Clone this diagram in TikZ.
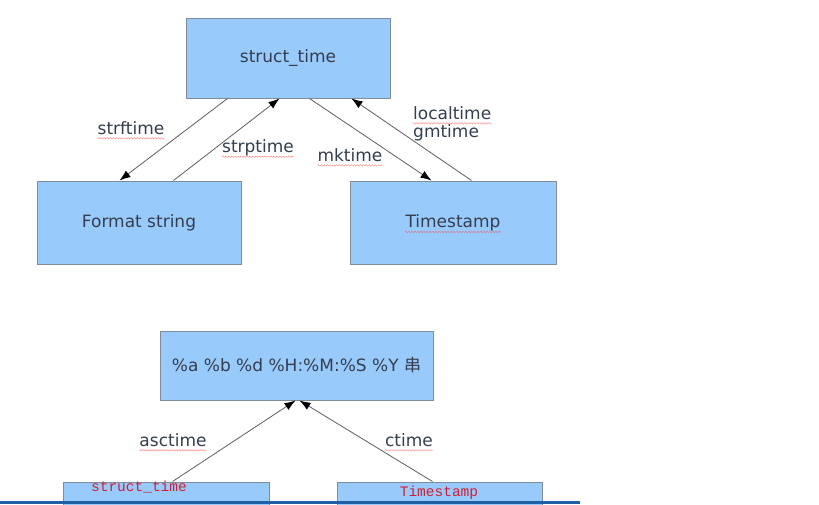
\documentclass[tikz,border=0pt]{standalone}
\usepackage{fontspec}
\setmainfont{DejaVu Sans}
\newfontfamily\cjkfont{Noto Sans CJK SC}
\newfontfamily\monofont{Liberation Mono}
\usetikzlibrary{arrows.meta,decorations.pathmorphing}
\definecolor{boxfill}{RGB}{153,202,252}
\definecolor{boxline}{RGB}{128,140,156}
\definecolor{txt}{RGB}{52,62,78}
\definecolor{arr}{RGB}{95,95,95}
\definecolor{redtxt}{RGB}{210,30,50}
\definecolor{barblue}{RGB}{30,95,165}
\tikzset{
  box/.style={draw=boxline, fill=boxfill, line width=1pt, inner sep=0pt, text=txt, font=\fontsize{17}{20}\selectfont},
  lbl/.style={text=txt, font=\fontsize{17}{20}\selectfont, inner sep=0pt},
  redlbl/.style={text=redtxt, font=\monofont\fontsize{14.5}{16}\selectfont, inner sep=0pt},
  conn/.style={draw=arr, line width=0.8pt, -{Latex[length=11pt,width=8pt,color=black]}},
  wavy/.style={draw=red!70, opacity=0.55, line width=0.6pt, decorate, decoration={snake, amplitude=0.7pt, segment length=3pt}}
}
\begin{document}
\begin{tikzpicture}[x=1pt,y=-1pt]
\useasboundingbox (0,0) rectangle (819,504);
\fill[white] (0,0) rectangle (819,504);
% boxes
\node[box, minimum width=204pt, minimum height=80pt] (st) at (288,58) {struct\_time};
\node[box, minimum width=204pt, minimum height=83pt] (fs) at (139,222.5) {Format string};
\node[box, minimum width=206pt, minimum height=83pt] (ts) at (453,222.5) {Timestamp};
\node[box, minimum width=273pt, minimum height=69pt] (fmt) at (296.5,365.5) {\%a \%b \%d \%H:\%M:\%S \%Y {\cjkfont 串}};
\node[box, minimum width=206pt, minimum height=40pt] (bst) at (166,502) {};
\node[box, minimum width=205pt, minimum height=40pt] (bts) at (439.5,502) {};
\node[redlbl] (bstl) at (139,487.5) {struct\_time};
\node[redlbl] (btsl) at (439,493) {Timestamp};
% connectors
\draw[conn] ([xshift=42pt]st.south west) -- ([xshift=83pt]fs.north west);
\draw[conn] ([xshift=137pt]fs.north west) -- ([xshift=94pt]st.south west);
\draw[conn] ([xshift=124pt]st.south west) -- ([xshift=82pt]ts.north west);
\draw[conn] ([xshift=122pt]ts.north west) -- ([xshift=166pt]st.south west);
\draw[conn] ([xshift=110pt]bst.north west) -- ([xshift=136pt]fmt.south west);
\draw[conn] ([xshift=96pt]bts.north west) -- ([xshift=140pt]fmt.south west);
% labels
\node[lbl] (l1) at (131,128) {strftime};
\node[lbl] (l2) at (258,148) {strptime};
\node[lbl] (l3) at (350,155) {mktime};
\node[lbl, anchor=west] (l4) at (413,113) {localtime};
\node[lbl, anchor=west] (l5) at (413,133) {gmtime};
\node[lbl] (l6) at (173,440) {asctime};
\node[lbl] (l7) at (409,440) {ctime};
% spell-check underlines
\draw[wavy] ([yshift=-4pt]l1.base west) -- ([yshift=-4pt]l1.base east);
\draw[wavy] ([yshift=-4pt]l2.base west) -- ([yshift=-4pt]l2.base east);
\draw[wavy] ([yshift=-4pt]l3.base west) -- ([yshift=-4pt]l3.base east);
\draw[wavy] ([yshift=-4pt]l4.base west) -- ([yshift=-4pt]l4.base east);
\draw[wavy] ([yshift=-4pt]l6.base west) -- ([yshift=-4pt]l6.base east);
\draw[wavy] ([yshift=-4pt]l7.base west) -- ([yshift=-4pt]l7.base east);
\draw[wavy] (405,232) -- (501,232);
% bottom bar
\draw[barblue, line width=3pt] (0,502.5) -- (580,502.5);
\end{tikzpicture}
\end{document}
